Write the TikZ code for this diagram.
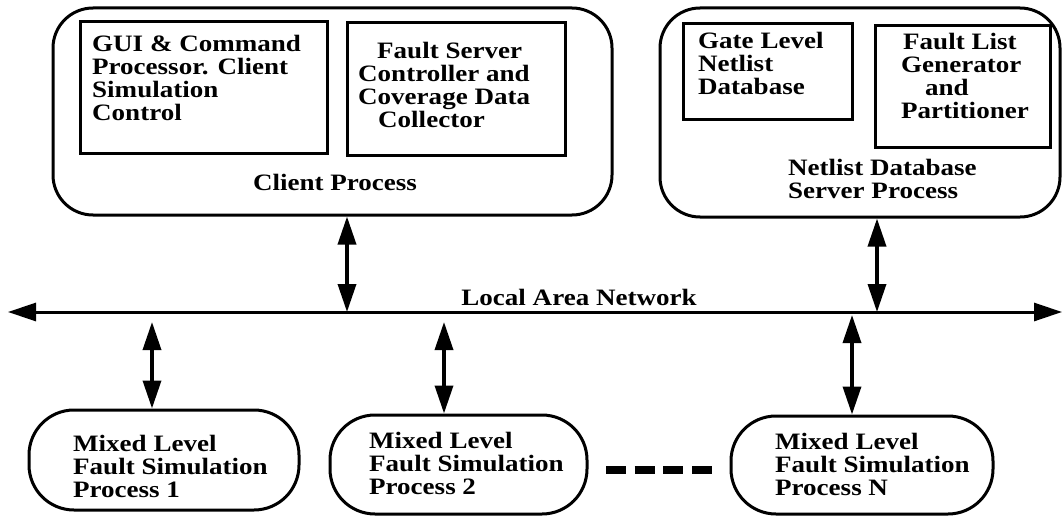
\documentclass[tikz,border=0pt]{standalone}
\usepackage{fontspec}
\setmainfont{Liberation Serif}[FakeStretch=1.15]
\usetikzlibrary{arrows.meta,fit}
\begin{document}
\begin{tikzpicture}[x=1pt,y=-1pt,
  txt/.style={inner sep=0pt, anchor=base west, align=left, font=\bfseries\fontsize{23.5}{23}\selectfont},
  ctxt/.style={inner sep=0pt, anchor=base, font=\bfseries\fontsize{23.5}{23}\selectfont},
  proc/.style={draw, line width=3pt, rounded corners=40pt, inner sep=0pt},
  subbox/.style={draw, line width=3pt, inner sep=0pt},
  sim/.style={draw, line width=3pt, rounded corners=45pt, inner sep=0pt},
  link/.style={line width=3.5pt, {Triangle[length=28pt,width=18pt]}-{Triangle[length=28pt,width=18pt]}},
  lan/.style={line width=3pt, {Triangle[length=28pt,width=18pt]}-{Triangle[length=28pt,width=18pt]}},
]
\useasboundingbox (0,0) rectangle (1063,519);
% upper process boxes
\node[proc, fit={(53,8) (612,215)}] (client) {};
\node[subbox, fit={(80,22) (327,153)}] (gui) {};
\node[subbox, fit={(347,23) (565,155)}] (fsc) {};
\node[proc, fit={(660,8) (1060,217)}] (server) {};
\node[subbox, fit={(683,24) (852,119)}] (gate) {};
\node[subbox, fit={(875,26) (1050,147)}] (flg) {};
% lower process boxes
\node[sim, fit={(29,410) (299,510)}] (p1) {};
\node[sim, fit={(330,415) (587,514)}] (p2) {};
\node[sim, fit={(731,416) (993,514)}] (pn) {};
% texts (anchor = baseline of last line)
\node[txt] (guiT) at (92,120) {GUI \& Command\\Processor. Client\\Simulation\\Control};
\node[txt] (fscT) at (358,127) {\hspace*{19pt}Fault Server\\Controller and\\Coverage Data\\\hspace*{20pt}Collector};
\node[ctxt] (cpT) at (335,190) {Client Process};
\node[txt] (gateT) at (698,94) {Gate Level\\Netlist\\Database};
\node[txt] (flgT) at (901,118) {\hspace*{2pt}Fault List\\Generator\\\hspace*{24pt}and\\Partitioner};
\node[txt] (srvT) at (788,198) {Netlist Database\\Server Process};
\node[ctxt] (lanT) at (579,305) {Local Area Network};
\node[txt] (p1T) at (73,497) {Mixed Level\\Fault Simulation\\Process 1};
\node[txt] (p2T) at (369,494) {Mixed Level\\Fault Simulation\\Process 2};
\node[txt] (pnT) at (775,495) {Mixed Level\\Fault Simulation\\Process N};
% network
\coordinate (lanL) at (8,312);
\coordinate (lanR) at (1062,312);
\draw[lan] (lanL) -- (lanR);
\coordinate (ca) at (347,312);
\coordinate (sa) at (877,312);
\coordinate (a1) at (152,322);
\coordinate (a2) at (444,322);
\coordinate (an) at (852,315);
\draw[link] (client.south -| ca) -- (ca);
\draw[link] (server.south -| sa) -- (sa);
\draw[link] (a1) -- (a1 |- p1.north);
\draw[link] (a2) -- (a2 |- p2.north);
\draw[link] (an) -- (an |- pn.north);
% ellipsis dashes
\coordinate (d1) at (606,470);
\coordinate (d2) at (712,470);
\draw[line width=8pt, dash pattern=on 20pt off 8.7pt] (d1) -- (d2);
\end{tikzpicture}
\end{document}
